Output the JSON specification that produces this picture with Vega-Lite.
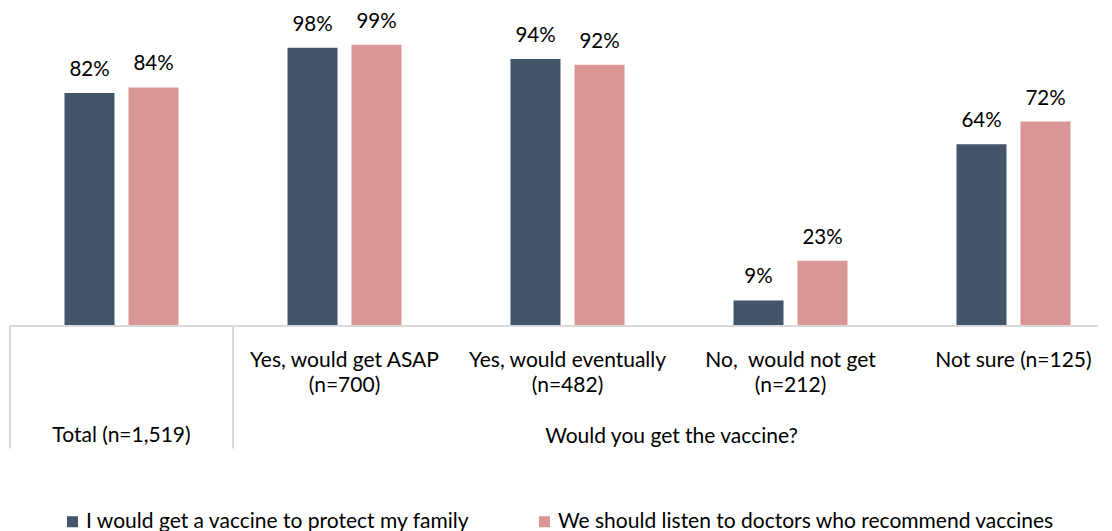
{
  "$schema": "https://vega.github.io/schema/vega-lite/v6.json",
  "width": 1088,
  "height": 284,
  "autosize": {"type": "none"},
  "padding": {"left": 10, "top": 42, "right": 14, "bottom": 205},
  "background": "white",
  "config": {
    "view": {"stroke": null},
    "font": "Lato",
    "text": {"font": "Lato"}
  },
  "data": {
    "values": [
      {"group": "Total (n=1,519)", "series": "I would get a vaccine to protect my family", "value": 0.82},
      {"group": "Total (n=1,519)", "series": "We should listen to doctors who recommend vaccines", "value": 0.84},
      {"group": "Yes, would get ASAP|(n=700)", "series": "I would get a vaccine to protect my family", "value": 0.98},
      {"group": "Yes, would get ASAP|(n=700)", "series": "We should listen to doctors who recommend vaccines", "value": 0.99},
      {"group": "Yes, would eventually|(n=482)", "series": "I would get a vaccine to protect my family", "value": 0.94},
      {"group": "Yes, would eventually|(n=482)", "series": "We should listen to doctors who recommend vaccines", "value": 0.92},
      {"group": "No, \u00a0would not get|(n=212)", "series": "I would get a vaccine to protect my family", "value": 0.09},
      {"group": "No, \u00a0would not get|(n=212)", "series": "We should listen to doctors who recommend vaccines", "value": 0.23},
      {"group": "Not sure (n=125)", "series": "I would get a vaccine to protect my family", "value": 0.64},
      {"group": "Not sure (n=125)", "series": "We should listen to doctors who recommend vaccines", "value": 0.72}
    ]
  },
  "encoding": {
    "x": {
      "field": "group",
      "type": "nominal",
      "sort": null,
      "scale": {"range": [0, 1115], "paddingInner": 0, "paddingOuter": 0},
      "axis": {
        "domain": false,
        "ticks": false,
        "labelAngle": 0,
        "labelFont": "Lato",
        "labelFontSize": 21,
        "labelColor": "#000000",
        "labelPadding": 23,
        "labelLineHeight": 25,
        "labelLimit": 300,
        "labelExpr": "datum.value == 'Total (n=1,519)' ? '' : split(datum.value, '|')",
        "title": "Would you get the vaccine?",
        "titleFont": "Lato",
        "titleFontSize": 21,
        "titleFontWeight": "normal",
        "titleColor": "#000000",
        "titleX": 661,
        "titleY": 110,
        "titleBaseline": "middle"
      }
    },
    "y": {
      "field": "value",
      "type": "quantitative",
      "scale": {"domain": [0, 1]},
      "axis": null
    }
  },
  "layer": [
    {
      "mark": {"type": "bar"},
      "encoding": {
        "xOffset": {
          "field": "series",
          "type": "nominal",
          "scale": {"paddingInner": 0.21875, "paddingOuter": 0.8516}
        },
        "color": {
          "field": "series",
          "type": "nominal",
          "scale": {
            "domain": ["I would get a vaccine to protect my family", "We should listen to doctors who recommend vaccines"],
            "range": ["#44546A", "#DA9694"]
          },
          "legend": {
            "title": null,
            "orient": "none",
            "direction": "horizontal",
            "legendX": 52,
            "legendY": 469,
            "symbolType": "square",
            "symbolSize": 121,
            "symbolStrokeWidth": 0,
            "labelFont": "Lato",
            "labelFontSize": 21,
            "labelColor": "#000000",
            "labelLimit": 700,
            "labelOffset": 3,
            "columnPadding": 64
          }
        }
      }
    },
    {
      "mark": {"type": "text", "baseline": "bottom", "dy": -13, "fontSize": 20.5, "color": "#000000"},
      "encoding": {
        "xOffset": {
          "field": "series",
          "type": "nominal",
          "scale": {"paddingInner": 0.21875, "paddingOuter": 0.8516}
        },
        "text": {"field": "value", "type": "quantitative", "format": ".0%"}
      }
    },
    {
      "transform": [
        {"filter": "datum.group == 'Total (n=1,519)' && datum.series == 'I would get a vaccine to protect my family'"}
      ],
      "mark": {"type": "text", "baseline": "middle", "align": "center", "fontSize": 21, "color": "#000000"},
      "encoding": {
        "y": {"datum": -0.387, "type": "quantitative"},
        "text": {"field": "group", "type": "nominal"}
      }
    },
    {
      "mark": {"type": "rule", "color": "#D9D9D9", "strokeWidth": 1},
      "encoding": {
        "x": null,
        "y": {"datum": 0, "type": "quantitative"}
      }
    },
    {
      "mark": {"type": "rule", "color": "#D9D9D9", "strokeWidth": 1},
      "encoding": {
        "x": {"datum": "Total (n=1,519)", "type": "nominal", "bandPosition": 0},
        "y": {"datum": 0, "type": "quantitative"},
        "y2": {"datum": -0.43}
      }
    },
    {
      "mark": {"type": "rule", "color": "#D9D9D9", "strokeWidth": 1},
      "encoding": {
        "x": {"datum": "Yes, would get ASAP|(n=700)", "type": "nominal", "bandPosition": 0},
        "y": {"datum": 0, "type": "quantitative"},
        "y2": {"datum": -0.43}
      }
    }
  ]
}
